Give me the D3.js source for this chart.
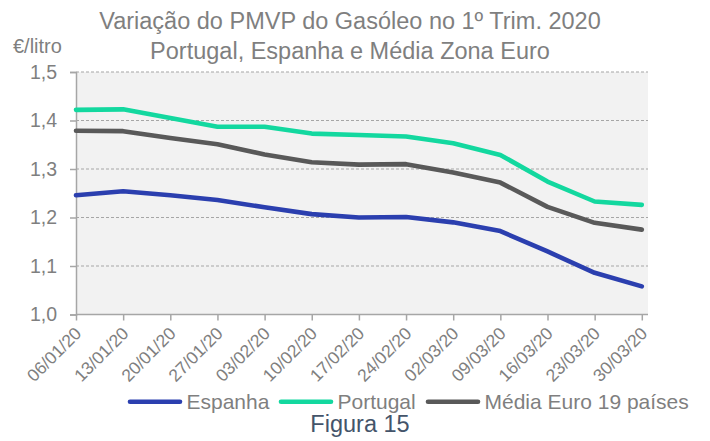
<!DOCTYPE html>
<html>
<head>
<meta charset="utf-8">
<script src="https://cdn.jsdelivr.net/npm/d3@7"></script>
<style>
  html, body { margin: 0; padding: 0; background: #ffffff; }
  svg { display: block; font-family: "Liberation Sans", Arial, sans-serif; }
</style>
</head>
<body>
<svg id="chart" width="710" height="441"></svg>
<script>
// ---- data ----
const categories = ["06/01/20","13/01/20","20/01/20","27/01/20","03/02/20","10/02/20","17/02/20","24/02/20","02/03/20","09/03/20","16/03/20","23/03/20","30/03/20"];
const espanha  = [1.246,1.254,1.246,1.236,1.221,1.207,1.200,1.201,1.190,1.172,1.130,1.086,1.058];
const portugal = [1.422,1.423,1.405,1.387,1.387,1.373,1.370,1.367,1.353,1.329,1.274,1.233,1.226];
const mediaEuro = [1.379,1.378,1.364,1.351,1.330,1.314,1.309,1.310,1.293,1.272,1.222,1.189,1.175];
const seriesNames = ["Espanha","Portugal","Média Euro 19 países"];
const yTicks = [1.0,1.1,1.2,1.3,1.4,1.5];
const titleLines = ["Variação do PMVP do Gasóleo no 1º Trim. 2020","Portugal, Espanha e Média Zona Euro"];
const yUnit = "€/litro";
const caption = "Figura 15";

const colors = ["#2b3faf","#13d89f","#595959"];
const seriesData = [espanha, portugal, mediaEuro];

const svg = d3.select("#chart");
const plot = {left: 76, right: 648, top: 72, bottom: 314.5};

const x = d3.scalePoint().domain(categories).range([76, 641.8]);
const y = d3.scaleLinear().domain([1.0, 1.5]).range([plot.bottom, plot.top]);

// background
svg.append("rect")
  .attr("x", plot.left).attr("y", plot.top)
  .attr("width", plot.right - plot.left).attr("height", plot.bottom - plot.top)
  .attr("fill", "#f2f2f2");

// gridlines
svg.append("g").selectAll("line").data(yTicks.filter(d => d > 1.0)).join("line")
  .attr("x1", plot.left).attr("x2", plot.right)
  .attr("y1", d => y(d)).attr("y2", d => y(d))
  .attr("stroke", "#a6a6a6").attr("stroke-width", 1.2)
  .attr("stroke-dasharray", "3,2");

// y axis
const yAxis = d3.axisLeft(y).tickValues(yTicks).tickSize(6).tickPadding(13)
  .tickFormat(d => d3.format(".1f")(d).replace(".", ","));
const gy = svg.append("g").attr("transform", `translate(${plot.left},0)`).call(yAxis);
gy.select(".domain").attr("stroke", "#a6a6a6").attr("stroke-width", 1.5);
gy.selectAll(".tick line").attr("stroke", "#a6a6a6").attr("stroke-width", 1.5);
gy.selectAll(".tick text").attr("fill", "#7f7f7f").style("font-size", "19.5px")
  .style("font-family", "'Liberation Sans', Arial, sans-serif");

// x axis
const xAxis = d3.axisBottom(x).tickSize(6).tickSizeOuter(0).tickPadding(0);
const gx = svg.append("g").attr("transform", `translate(0,${plot.bottom})`).call(xAxis);
gx.select(".domain").attr("d", `M${plot.left},0H${plot.right}`).attr("stroke", "#a6a6a6").attr("stroke-width", 1.5);
gx.selectAll(".tick line").attr("stroke", "#a6a6a6").attr("stroke-width", 1.5);
gx.selectAll(".tick text")
  .attr("fill", "#7f7f7f").style("font-size", "17.5px")
  .style("font-family", "'Liberation Sans', Arial, sans-serif")
  .attr("text-anchor", "end")
  .attr("dy", null).attr("y", 0)
  .attr("transform", "translate(6,20) rotate(-45)");

// lines
const line = d3.line().x((d, i) => x(categories[i])).y(d => y(d));
svg.append("g").selectAll("path").data(seriesData).join("path")
  .attr("d", d => line(d))
  .attr("fill", "none")
  .attr("stroke", (d, i) => colors[i])
  .attr("stroke-width", 4.6)
  .attr("stroke-linecap", "round")
  .attr("stroke-linejoin", "round");

// title
svg.append("g").selectAll("text").data(titleLines).join("text")
  .attr("x", 350).attr("y", (d, i) => 29.3 + i * 30)
  .attr("text-anchor", "middle")
  .attr("fill", "#7f7f7f").style("font-size", "23.5px")
  .text(d => d);

// unit label
svg.append("text").attr("x", 13).attr("y", 53)
  .attr("fill", "#7f7f7f").style("font-size", "20px").text(yUnit);

// legend
const legendItems = [
  {name: seriesNames[0], color: colors[0], x0: 128},
  {name: seriesNames[1], color: colors[1], x0: 279},
  {name: seriesNames[2], color: colors[2], x0: 426}
];
const lg = svg.append("g");
legendItems.forEach(it => {
  lg.append("line").attr("x1", it.x0 + 2).attr("x2", it.x0 + 52)
    .attr("y1", 401.7).attr("y2", 401.7)
    .attr("stroke", it.color).attr("stroke-width", 4.6).attr("stroke-linecap", "round");
  lg.append("text").attr("x", it.x0 + 58.5).attr("y", 409)
    .attr("fill", "#7f7f7f").style("font-size", "21px").text(it.name);
});

// caption
svg.append("text").attr("x", 360).attr("y", 432)
  .attr("text-anchor", "middle").attr("fill", "#44546a")
  .style("font-size", "23.5px").text(caption);
</script>
</body>
</html>
